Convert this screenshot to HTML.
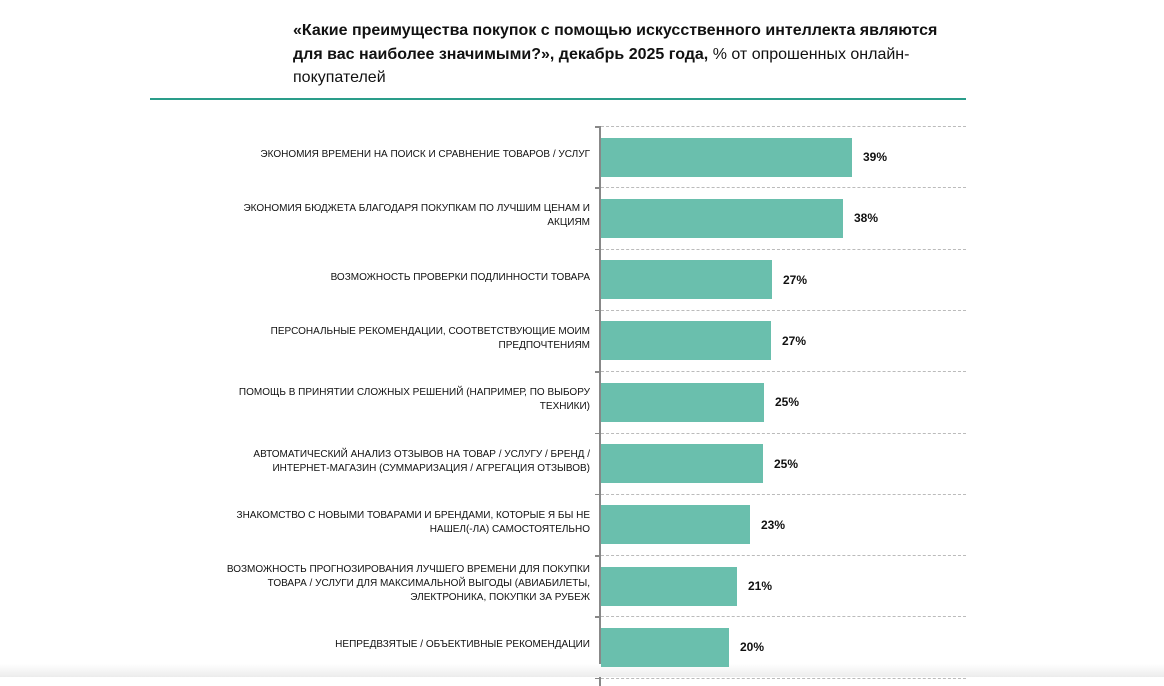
<!DOCTYPE html>
<html><head><meta charset="utf-8"><style>
body{margin:0;width:1164px;height:677px;background:#fff;position:relative;overflow:hidden;font-family:"Liberation Sans",sans-serif;}
.t{position:absolute;left:293px;top:19px;width:660px;font-size:16px;line-height:23.5px;color:#111;}
.hr{position:absolute;left:150px;top:98px;width:816px;height:2px;background:#2a9d8a;}
.ax{position:absolute;left:599px;top:126px;width:2px;height:560px;background:#888;}
.g{position:absolute;left:601px;width:365px;border-top:1.5px dashed #bbb;}
.tk{position:absolute;left:595px;width:6px;height:1.5px;background:#888;}
.b{position:absolute;left:601px;height:39px;background:#6abfad;}
.v{position:absolute;font-size:12px;font-weight:bold;color:#111;}
.l{position:absolute;right:574px;width:400px;text-align:right;font-size:10px;line-height:14px;color:#111;}
.sh{position:absolute;left:0;top:664px;width:1164px;height:13px;background:linear-gradient(#fff,#ececec);}
</style></head><body>
<div class="t"><b>«Какие преимущества покупок с помощью искусственного интеллекта являются для вас наиболее значимыми?», декабрь 2025 года,</b> % от опрошенных онлайн-покупателей</div>
<div class="hr"></div>
<div class="ax"></div>
<div class="sh"></div>
<div id="c"></div>
<script>
var d=[["ЭКОНОМИЯ ВРЕМЕНИ НА ПОИСК И СРАВНЕНИЕ ТОВАРОВ / УСЛУГ",852,"39%"],
["ЭКОНОМИЯ БЮДЖЕТА БЛАГОДАРЯ ПОКУПКАМ ПО ЛУЧШИМ ЦЕНАМ И<br>АКЦИЯМ",843,"38%"],
["ВОЗМОЖНОСТЬ ПРОВЕРКИ ПОДЛИННОСТИ ТОВАРА",772,"27%"],
["ПЕРСОНАЛЬНЫЕ РЕКОМЕНДАЦИИ, СООТВЕТСТВУЮЩИЕ МОИМ<br>ПРЕДПОЧТЕНИЯМ",771,"27%"],
["ПОМОЩЬ В ПРИНЯТИИ СЛОЖНЫХ РЕШЕНИЙ (НАПРИМЕР, ПО ВЫБОРУ<br>ТЕХНИКИ)",764,"25%"],
["АВТОМАТИЧЕСКИЙ АНАЛИЗ ОТЗЫВОВ НА ТОВАР / УСЛУГУ / БРЕНД /<br>ИНТЕРНЕТ-МАГАЗИН (СУММАРИЗАЦИЯ / АГРЕГАЦИЯ ОТЗЫВОВ)",763,"25%"],
["ЗНАКОМСТВО С НОВЫМИ ТОВАРАМИ И БРЕНДАМИ, КОТОРЫЕ Я БЫ НЕ<br>НАШЕЛ(-ЛА) САМОСТОЯТЕЛЬНО",750,"23%"],
["ВОЗМОЖНОСТЬ ПРОГНОЗИРОВАНИЯ ЛУЧШЕГО ВРЕМЕНИ ДЛЯ ПОКУПКИ<br>ТОВАРА / УСЛУГИ ДЛЯ МАКСИМАЛЬНОЙ ВЫГОДЫ (АВИАБИЛЕТЫ,<br>ЭЛЕКТРОНИКА, ПОКУПКИ ЗА РУБЕЖ",737,"21%"],
["НЕПРЕДВЗЯТЫЕ / ОБЪЕКТИВНЫЕ РЕКОМЕНДАЦИИ",729,"20%"]];
var h="";
for(var i=0;i<10;i++){var y=126+i*61.3;h+='<div class="g" style="top:'+y+'px"></div><div class="tk" style="top:'+y+'px"></div>';}
d.forEach(function(r,i){var c=157+i*61.3;var n=(r[0].match(/<br>/g)||[]).length+1;
h+='<div class="b" style="top:'+(c-19.5)+'px;width:'+(r[1]-601)+'px"></div>';
h+='<div class="v" style="left:'+(r[1]+11)+'px;top:'+(c-7)+'px">'+r[2]+'</div>';
h+='<div class="l" style="top:'+(c-n*7-2)+'px">'+r[0]+'</div>';});
document.getElementById("c").innerHTML=h;
</script>
</body></html>
